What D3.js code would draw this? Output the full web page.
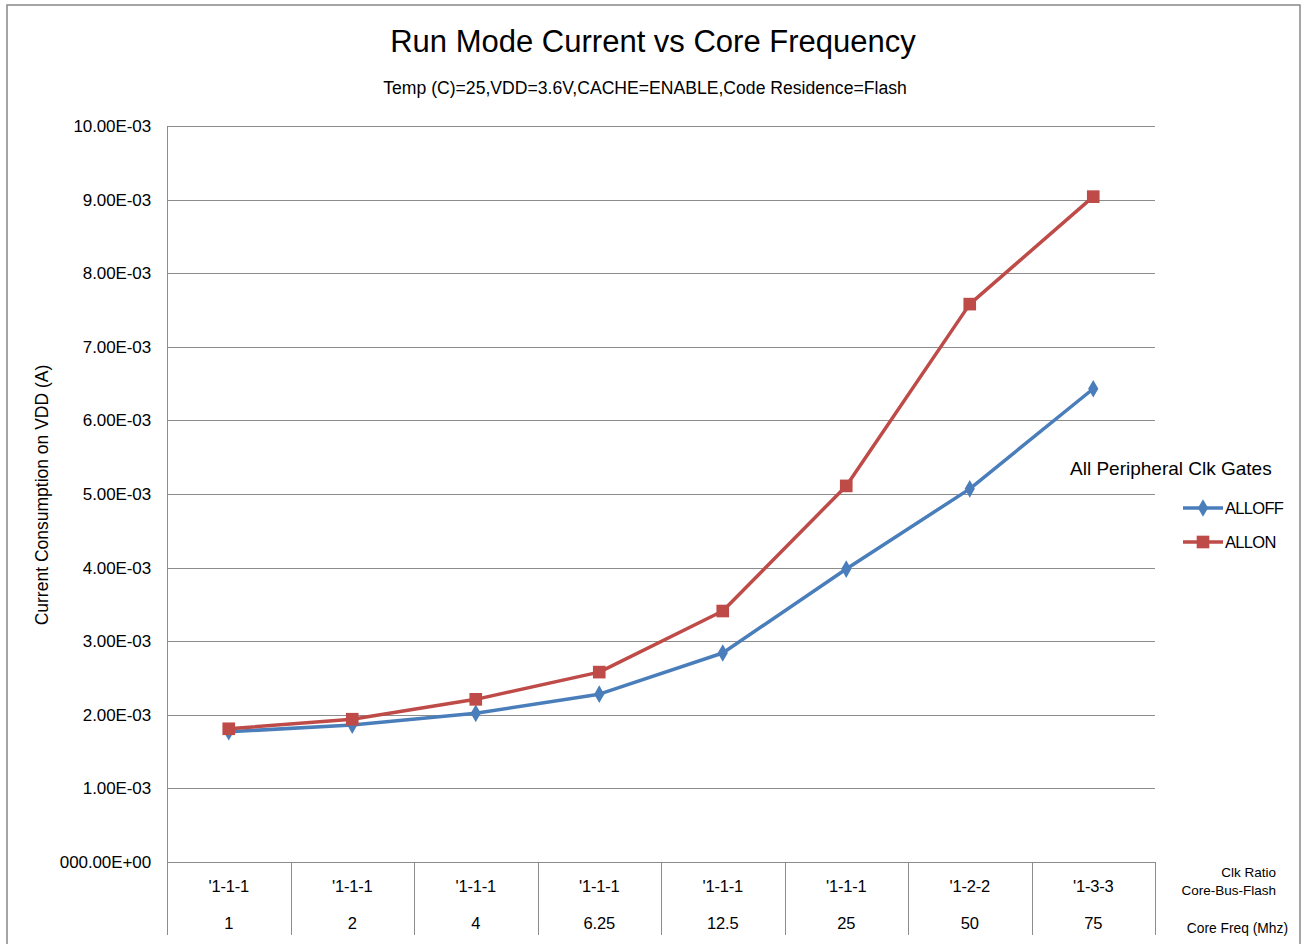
<!DOCTYPE html>
<html><head><meta charset="utf-8">
<script src="https://cdn.jsdelivr.net/npm/d3@7"></script>
<style>
body{margin:0;background:#fff;}
text{font-family:"Liberation Sans",Arial,sans-serif;fill:#000;}
</style></head>
<body><svg id="c" width="1304" height="944"></svg>
<script>
const freqs = ["1","2","4","6.25","12.5","25","50","75"];
const ratios = ["'1-1-1","'1-1-1","'1-1-1","'1-1-1","'1-1-1","'1-1-1","'1-2-2","'1-3-3"];
const allOff = [1.77e-3,1.86e-3,2.02e-3,2.28e-3,2.84e-3,3.98e-3,5.07e-3,6.43e-3];
const allOn  = [1.81e-3,1.94e-3,2.21e-3,2.58e-3,3.41e-3,5.11e-3,7.58e-3,9.04e-3];
const yTicks = [0,1e-3,2e-3,3e-3,4e-3,5e-3,6e-3,7e-3,8e-3,9e-3,10e-3];
const yTickLabels = ["000.00E+00","1.00E-03","2.00E-03","3.00E-03","4.00E-03","5.00E-03","6.00E-03","7.00E-03","8.00E-03","9.00E-03","10.00E-03"];
const seriesNames = ["ALLOFF","ALLON"];
const colors = ["#4a7ebb","#be4b48"];

const svg = d3.select("#c");
const L=167,R=1155,T=126,B=862;
const x = d3.scaleBand().domain(d3.range(freqs.length)).range([L,R]);
const y = d3.scaleLinear().domain([0,10e-3]).range([B,T]);

// outer border
svg.append("rect").attr("x",7).attr("y",5).attr("width",1293).attr("height",960)
  .attr("fill","none").attr("stroke","#888").attr("stroke-width",1.5);

// gridlines
svg.append("g").selectAll("line").data(yTicks).join("line")
  .attr("x1",L).attr("x2",R).attr("y1",d=>Math.round(y(d))+0.5).attr("y2",d=>Math.round(y(d))+0.5)
  .attr("stroke","#8c8c8c").attr("stroke-width",1);

// y axis
const yAxis = d3.axisLeft(y).tickValues(yTicks).tickFormat((d,i)=>yTickLabels[i]).tickSize(0).tickPadding(16);
const ga = svg.append("g").attr("transform",`translate(${L},0)`).call(yAxis);
ga.select(".domain").remove();
ga.selectAll("text").attr("font-size",17).attr("letter-spacing","-0.1px").attr("font-family","Liberation Sans, Arial, sans-serif").attr("fill","#000");

// left axis line
svg.append("line").attr("x1",L+0.5).attr("x2",L+0.5).attr("y1",T).attr("y2",935).attr("stroke","#8c8c8c");

// category separators
svg.append("g").selectAll("line").data(d3.range(1,freqs.length+1)).join("line")
  .attr("x1",i=>Math.round(L+i*x.bandwidth())+0.5).attr("x2",i=>Math.round(L+i*x.bandwidth())+0.5)
  .attr("y1",B).attr("y2",935).attr("stroke","#8c8c8c");

// category labels
const cx = i=>x(i)+x.bandwidth()/2;
svg.append("g").selectAll("text").data(ratios).join("text")
  .attr("x",(d,i)=>cx(i)).attr("y",892).attr("text-anchor","middle").attr("font-size",16.5).attr("letter-spacing","-0.2px").text(d=>d);
svg.append("g").selectAll("text").data(freqs).join("text")
  .attr("x",(d,i)=>cx(i)).attr("y",929).attr("text-anchor","middle").attr("font-size",16.5).attr("letter-spacing","-0.2px").text(d=>d);

svg.append("text").attr("x",1276).attr("y",877).attr("text-anchor","end").attr("font-size",13.5).text("Clk Ratio");
svg.append("text").attr("x",1276).attr("y",895).attr("text-anchor","end").attr("font-size",13.5).text("Core-Bus-Flash");
svg.append("text").attr("x",1288).attr("y",933).attr("text-anchor","end").attr("font-size",13.8).text("Core Freq (Mhz)");

// titles
svg.append("text").attr("x",653).attr("y",52).attr("text-anchor","middle").attr("font-size",31).text("Run Mode Current vs Core Frequency");
svg.append("text").attr("x",645).attr("y",94).attr("text-anchor","middle").attr("font-size",17.6).text("Temp (C)=25,VDD=3.6V,CACHE=ENABLE,Code Residence=Flash");

// y label
svg.append("text").attr("transform","translate(48,495) rotate(-90)").attr("text-anchor","middle").attr("font-size",17.5).text("Current Consumption on VDD (A)");

// series
const line = d3.line().x((d,i)=>cx(i)).y(d=>y(d));
const data = [allOff, allOn];
data.forEach((vals,k)=>{
  svg.append("path").datum(vals).attr("d",line).attr("fill","none").attr("stroke",colors[k]).attr("stroke-width",3.5).attr("stroke-linejoin","round");
});
// markers
svg.append("g").selectAll("path").data(allOff).join("path")
  .attr("transform",(d,i)=>`translate(${cx(i)},${y(d)})`).attr("d",d3.symbol().type(d3.symbolDiamond).size(90)).attr("fill",colors[0]);
svg.append("g").selectAll("path").data(allOn).join("path")
  .attr("transform",(d,i)=>`translate(${cx(i)},${y(d)})`).attr("d",d3.symbol().type(d3.symbolSquare).size(160)).attr("fill",colors[1]);

// legend
svg.append("text").attr("x",1070).attr("y",475).attr("font-size",19).text("All Peripheral Clk Gates");
const ly=[508,542];
seriesNames.forEach((n,k)=>{
  svg.append("line").attr("x1",1183).attr("x2",1223).attr("y1",ly[k]).attr("y2",ly[k]).attr("stroke",colors[k]).attr("stroke-width",3.5);
  svg.append("path").attr("transform",`translate(1203,${ly[k]})`).attr("d",d3.symbol().type(k===0?d3.symbolDiamond:d3.symbolSquare).size(k===0?90:160)).attr("fill",colors[k]);
  svg.append("text").attr("x",1225).attr("y",ly[k]+6).attr("font-size",16.5).attr("letter-spacing","-0.7px").text(n);
});
</script></body></html>
